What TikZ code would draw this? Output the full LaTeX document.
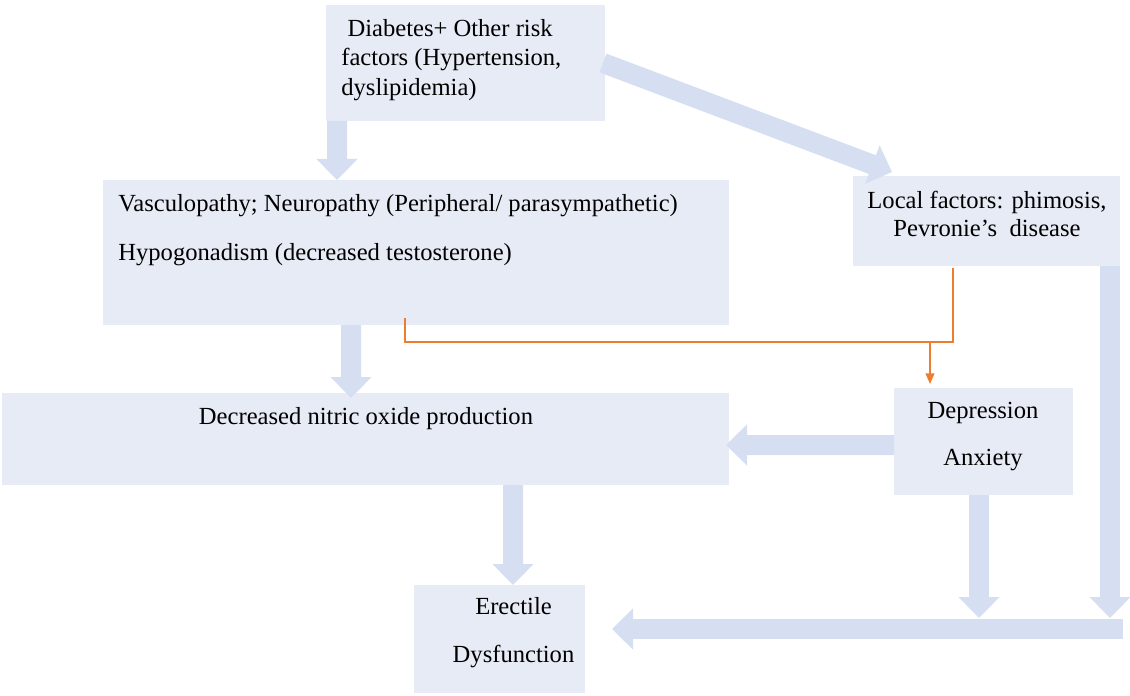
\documentclass[tikz,border=0pt]{standalone}
\usepackage{fontspec}
\setmainfont{Liberation Serif}
\usetikzlibrary{arrows.meta,calc}
\definecolor{boxfill}{RGB}{231,235,246}
\definecolor{arrowfill}{RGB}{214,223,241}
\definecolor{linkorange}{RGB}{237,125,49}
\tikzset{
  factorbox/.style={fill=boxfill, inner sep=0pt, outer sep=0pt},
  boxtext/.style={inner sep=0pt, font=\fontsize{14}{16.8}\selectfont},
  bigarrow/.style={draw=arrowfill, line width=0.4cm, -{Triangle[width=0.8cm,length=0.42cm]}},
  thinlink/.style={draw=linkorange, line width=0.8pt},
}

\begin{document}
\begin{tikzpicture}
  \useasboundingbox (0,0) rectangle (22.6,-13.92);

  % boxes
  \node[factorbox, minimum width=5.58cm,  minimum height=2.32cm] (risk)   at (9.31,-1.26)  {};
  \node[factorbox, minimum width=12.52cm, minimum height=2.9cm]  (vasc)   at (8.32,-5.05)  {};
  \node[factorbox, minimum width=5.34cm,  minimum height=1.8cm]  (local)  at (19.73,-4.42) {};
  \node[factorbox, minimum width=14.54cm, minimum height=1.84cm] (nitric) at (7.31,-8.78)  {};
  \node[factorbox, minimum width=3.58cm,  minimum height=2.14cm] (dep)    at (19.67,-8.83) {};
  \node[factorbox, minimum width=3.42cm,  minimum height=2.16cm] (ed)     at (9.99,-12.78) {};

  \coordinate (barstart) at (22.46,-12.58);

  % block arrows
  \draw[bigarrow] ($(risk.south west)+(0.22,0)$) -- ($(vasc.north west)+(4.68,0)$);
  \draw[bigarrow] ($(risk.east)+(-0.04,0)$) -- ($(local.north west)+(0.78,0.08)$);
  \draw[bigarrow] ($(vasc.south west)+(4.96,0)$) -- ($(nitric.north west)+(6.98,-0.1)$);
  \draw[bigarrow] ($(nitric.south west)+(10.22,0)$) -- ($(ed.north west)+(1.98,0)$);
  \draw[bigarrow] ($(dep.west)+(0,-0.07)$) -- ($(nitric.east)+(-0.06,-0.12)$);
  \draw[bigarrow] ($(dep.south)+(-0.09,0)$) -- ($(dep.south |- barstart)+(-0.09,0.22)$);
  \draw[bigarrow] ($(local.south east)+(-0.2,0)$) -- ($(local.south east |- barstart)+(-0.2,0.22)$);
  \draw[bigarrow] (barstart) -- ($(ed.east)+(0.54,0.2)$);

  % orange link
  \draw[thinlink] ($(vasc.south west)+(6.04,0.14)$) -- ++(0,-0.48) -| ($(local.south west)+(2.0,-0.04)$);
  \draw[thinlink, -{Triangle[width=5pt,length=6pt]}] ($(dep.north west)+(0.72,0.92)$) -- ($(dep.north west)+(0.72,0.08)$);

  % texts
  \node[boxtext, anchor=west, align=left] (risktxt) at (6.82,-1.2)
    {\ Diabetes+ Other risk\\factors (Hypertension,\\dyslipidemia)};
  \node[boxtext, anchor=west, align=left, font=\fontsize{14}{27.8}\selectfont] (vasctxt) at (2.36,-4.6)
    {Vasculopathy; Neuropathy (Peripheral/ parasympathetic)\\Hypogonadism (decreased testosterone)};
  \node[boxtext, align=center, font=\fontsize{14}{16.4}\selectfont] (localtxt) at (19.74,-4.28)
    {Local factors: phimosis,\\Pevronie’s\ \ disease};
  \node[boxtext] (nitrictxt) at (7.32,-8.38) {Decreased nitric oxide production};
  \node[boxtext, align=center, font=\fontsize{14}{26.7}\selectfont] (deptxt) at (19.66,-8.73)
    {Depression\\Anxiety};
  \node[boxtext, align=center, font=\fontsize{14}{27.2}\selectfont] (edtxt) at (10.27,-12.66)
    {Erectile\\Dysfunction};

\end{tikzpicture}
\end{document}
